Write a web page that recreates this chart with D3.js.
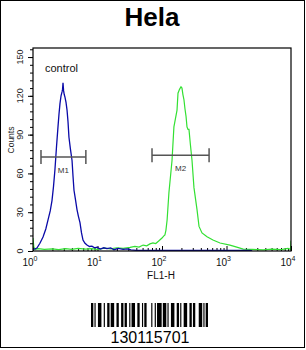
<!DOCTYPE html>
<html>
<head>
<meta charset="utf-8">
<script src="https://cdn.jsdelivr.net/npm/d3@7"></script>
<style>
  body{margin:0;background:#fff;}
  svg text{font-family:"Liberation Sans",Arial,sans-serif;}
</style>
</head>
<body>
<div id="chart"></div>
<script>
// histogram data (FL1-H channel value, counts)
var controlX = [1, 1.15, 1.28, 1.43, 1.58, 1.71, 1.85, 1.97, 2.08, 2.19, 2.31, 2.44, 2.53, 2.62, 2.72, 2.82, 2.87, 2.92, 2.98, 3.05, 3.13, 3.25, 3.37, 3.49, 3.61, 3.8, 4.03, 4.17, 4.32, 4.55, 4.81, 5.05, 5.35, 5.65, 5.96, 6.4, 6.87, 7.5, 8.2, 9, 9.8, 11, 12.5, 14, 16, 18, 21, 25, 29, 33, 40, 60, 100, 300, 1000, 2300, 2500];
var controlCounts = [1, 2.3, 6, 10.8, 17, 24, 31, 39, 50, 63, 80, 96, 106, 114, 120, 123, 125, 130, 124, 121, 119, 115, 109, 100, 88, 79, 70, 58, 47, 40, 32, 27, 22, 14, 8.5, 6, 4.6, 3.5, 3.8, 2.5, 3, 1.5, 2.5, 1.8, 2.4, 1, 2, 1.2, 1.6, 0.8, 0.5, 0.5, 0.5, 0.5, 0.5, 0.5, 0];

var sampleX = [1, 1.03, 1.08, 1.2, 1.5, 2, 2.5, 3.2, 4, 5, 6.5, 8, 10, 13, 16, 20, 25, 32, 38, 44, 51, 58, 65, 72.5, 80, 88,
  100, 106, 111, 115, 120, 128, 143, 153, 171, 177, 187, 197, 204, 211, 219, 227, 236, 244, 253, 262, 276, 292, 313, 349, 375,
  417, 499, 617, 794, 1130, 1400, 1820, 2500, 3700, 5000, 7000, 9000, 9800, 10000];
var sampleCounts = [10, 3, 1.2, 1.8, 1.2, 1.6, 1.0, 1.8, 1.3, 2.0, 1.4, 1.8, 1.2, 2.2, 1.6, 2.5, 2.0, 2.8, 3.5, 3.0, 4.6, 4.0, 5.5, 6.2, 5.8, 7.5,
  10, 11.5, 12.4, 16, 24, 45, 70, 96, 109, 122, 125, 127, 126, 121, 117, 110, 104, 96, 94, 94, 82, 70, 49, 32, 19,
  14, 11, 8.5, 6.2, 4.6, 3.2, 1.5, 1.2, 0.8, 1.5, 1.0, 2.0, 1.2, 8];

var markerNames = ["M1", "M2"];
var markerStart = [1.33, 70];
var markerEnd = [6.6, 537];
var markerCount = [72.7, 74];

var yTicks = [0, 30, 60, 90, 120, 150];
var xDecades = [1, 10, 100, 1000, 10000];

var W = 306, H = 350;
var svg = d3.select("#chart").append("svg").attr("width", W).attr("height", H);

// outer frame
svg.append("rect").attr("x", 0.5).attr("y", 0.5).attr("width", 304).attr("height", 347)
  .attr("fill", "none").attr("stroke", "#000").attr("stroke-width", 1);

svg.append("text").attr("x", 152).attr("y", 26).attr("text-anchor", "middle")
  .attr("font-size", 26).attr("font-weight", "bold").text("Hela");

var x = d3.scaleLog().domain([1, 10000]).range([33, 291]);
var y = d3.scaleLinear().domain([0, 157]).range([251, 48]);

svg.append("clipPath").attr("id", "clip").append("rect")
  .attr("x", 33).attr("y", 48).attr("width", 258).attr("height", 203);

//y axis: major + minor ticks, rotated labels
var minorY = d3.range(0, 157, 6);
svg.append("g").attr("transform", "translate(33,0)")
  .call(d3.axisLeft(y).tickValues(minorY).tickSize(3).tickFormat(""))
  .call(function(g){ g.select(".domain").remove(); });
var gy = svg.append("g").attr("transform", "translate(33,0)")
  .call(d3.axisLeft(y).tickValues(yTicks).tickSize(5).tickFormat(""));
gy.select(".domain").remove();
yTicks.forEach(function(t){
  svg.append("text").attr("transform", "translate(23," + y(t) + ") rotate(-90)")
    .attr("text-anchor", "middle").attr("font-size", 9).attr("fill", "#222").text(t);
});
svg.append("text").attr("transform", "translate(14,140) rotate(-90)")
  .attr("text-anchor", "middle").attr("font-size", 8.5).attr("fill", "#222").text("Counts");

// x axis: minor ticks inside
var minorX = [];
for (var d = 1; d < 10000; d *= 10) {
  for (var k = 2; k < 10; k++) minorX.push(d * k);
}
svg.append("g").attr("transform", "translate(0,251)")
  .call(d3.axisBottom(x).tickValues(minorX).tickSize(-3).tickFormat(""))
  .call(function(g){ g.select(".domain").remove(); });
svg.append("g").attr("transform", "translate(0,251)")
  .call(d3.axisBottom(x).tickValues(xDecades).tickSize(-5).tickFormat(""))
  .call(function(g){ g.select(".domain").remove(); });
xDecades.forEach(function(v, i){
  var t = svg.append("text").attr("x", x(v) - 3).attr("y", 266)
    .attr("text-anchor", "middle").attr("font-size", 10).attr("fill", "#111");
  t.append("tspan").text("10");
  t.append("tspan").attr("dy", -5).attr("font-size", 7).text(i);
});
svg.append("text").attr("x", 161).attr("y", 279).attr("text-anchor", "middle")
  .attr("font-size", 10).attr("fill", "#111").text("FL1-H");

// histograms
var line = d3.line().x(function(d){ return x(d[0]); }).y(function(d){ return y(d[1]); });
var plot = svg.append("g").attr("clip-path", "url(#clip)");
plot.append("path").datum(d3.zip(sampleX, sampleCounts))
  .attr("d", line).attr("fill", "none").attr("stroke", "#33e033").attr("stroke-width", 1.2);
plot.append("path").datum(d3.zip(controlX, controlCounts))
  .attr("d", line).attr("fill", "none").attr("stroke", "#0a0aa8").attr("stroke-width", 1.3);

// plot box
svg.append("rect").attr("x", 33).attr("y", 48).attr("width", 258).attr("height", 203)
  .attr("fill", "none").attr("stroke", "#000").attr("stroke-width", 1.2);

svg.append("text").attr("x", 45).attr("y", 72).attr("font-size", 11).attr("fill", "#111").text("control");

// marker gates
markerNames.forEach(function(name, i){
  var g = plot.append("g").attr("stroke", "#555").attr("stroke-width", 1.5);
  var x0 = x(markerStart[i]), x1 = x(markerEnd[i]), yy = y(markerCount[i]);
  g.append("line").attr("x1", x0).attr("x2", x1).attr("y1", yy).attr("y2", yy);
  g.append("line").attr("x1", x0).attr("x2", x0).attr("y1", yy - 7).attr("y2", yy + 7);
  g.append("line").attr("x1", x1).attr("x2", x1).attr("y1", yy - 7).attr("y2", yy + 7);
  svg.append("text").attr("x", (x0 + x1) / 2).attr("y", yy + 16).attr("text-anchor", "middle")
    .attr("font-size", 8).attr("fill", "#333").text(name);
});

// barcode (Code 128 pattern of the number)
var barcodeText = "130115701";
var barcodePattern = ["211232", "122132", "222122", "113222", "112412", "114131", "123221", "123221", "2331112"];
var mods = barcodePattern.join("").split("").map(Number);
var total = d3.sum(mods);
var bx = d3.scaleLinear().domain([0, total]).range([91, 208]);
var pos = 0;
mods.forEach(function(m, i){
  if (i % 2 === 0) {
    svg.append("rect").attr("x", bx(pos)).attr("y", 303).attr("width", bx(pos + m) - bx(pos))
      .attr("height", 24).attr("fill", "#000");
  }
  pos += m;
});
svg.append("text").attr("x", 150).attr("y", 343).attr("text-anchor", "middle")
  .attr("font-size", 16).attr("fill", "#000").text(barcodeText);
</script>
</body>
</html>
